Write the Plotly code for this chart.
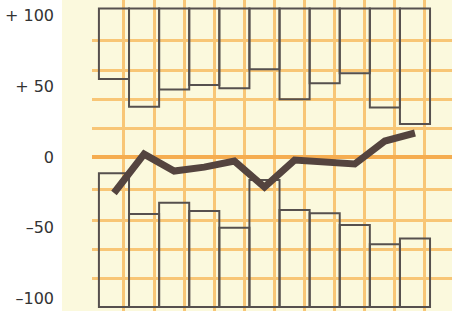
import plotly.graph_objects as go

# ---- data ----
periods = list(range(11))
upper_low = [55.1, 35.5, 47.8, 50.9, 48.6, 62.0, 40.8, 52.1, 59.2, 35.1, 23.3]
lower_high = [-11.5, -40.3, -32.3, -38.2, -50.0, -16.3, -37.5, -39.8, -48.1, -61.7, -57.5]
average = [-25.4, 2.1, -9.9, -7.1, -2.8, -21.2, -2.1, -3.5, -4.9, 11.3, 17.0]
box_top = 105
box_bottom = -106
tick_vals = [100, 50, 0, -50, -100]
tick_text = ["+ 100", "+ 50", "0", "–50", "–100"]

# graph-paper grid positions (style)
hgrid = [82.7, 61.5, 41.0, 20.5, -22.6, -44.5, -65.0, -85.5]
vgrid = [i + 0.33 for i in range(12)]

BOX = "#56504e"
LINE = "#54443f"
CREAM = "#fbf9dd"
GRID = "#f8c676"
ZERO = "#f5ad50"

fig = go.Figure()
fig.add_trace(go.Bar(
    x=periods, y=[box_top - u for u in upper_low], base=upper_low, width=1,
    marker=dict(color="rgba(0,0,0,0)", line=dict(color=BOX, width=2)),
    hoverinfo="skip", showlegend=False))
fig.add_trace(go.Bar(
    x=periods, y=[h - box_bottom for h in lower_high], base=[box_bottom] * len(periods), width=1,
    marker=dict(color="rgba(0,0,0,0)", line=dict(color=BOX, width=2)),
    hoverinfo="skip", showlegend=False))
fig.add_trace(go.Scatter(
    x=periods, y=average, mode="lines", yaxis="y2",
    line=dict(color=LINE, width=7), showlegend=False, hoverinfo="skip"))

yr = [-108.8, 111.0]
fig.update_layout(
    width=452, height=311,
    margin=dict(l=92, r=0, t=0, b=0),
    paper_bgcolor="white", plot_bgcolor=CREAM,
    barmode="overlay",
    xaxis=dict(range=[-0.73, 11.23], tickmode="array", tickvals=vgrid,
               showticklabels=False, showgrid=True, gridcolor=GRID, gridwidth=3,
               zeroline=False, showline=False, ticks=""),
    yaxis=dict(range=yr, tickmode="array", tickvals=hgrid, showticklabels=False,
               showgrid=True, gridcolor=GRID, gridwidth=3,
               zeroline=True, zerolinecolor=ZERO, zerolinewidth=4,
               showline=False, ticks=""),
    yaxis2=dict(range=yr, overlaying="y", side="left", anchor="x",
                tickmode="array", tickvals=tick_vals, ticktext=tick_text,
                showgrid=False, zeroline=False, showline=False, ticks="",
                ticklabelstandoff=37,
                tickfont=dict(family="DejaVu Sans", size=16, color="#333333")),
    shapes=[dict(type="rect", xref="paper", yref="paper",
                 x0=-30 / 360, x1=0, y0=0, y1=1,
                 fillcolor=CREAM, line=dict(width=0), layer="below")],
)

fig.write_html("out.html", config={"displayModeBar": False},
               post_script="document.body.style.margin='0';")
